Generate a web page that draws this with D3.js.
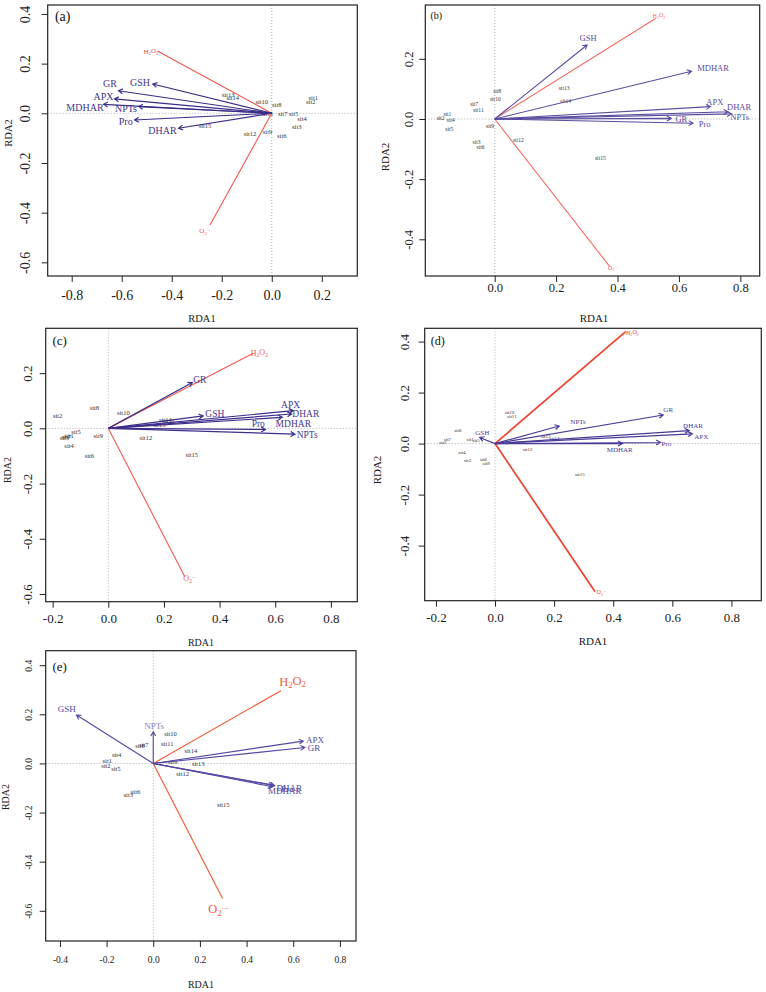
<!DOCTYPE html>
<html>
<head>
<meta charset="utf-8" />
<title>RDA biplots (a)-(e)</title>
<script src="https://cdn.jsdelivr.net/npm/d3@7"></script>
<style>
  body { margin: 0; background: #fff; }
  svg text { font-family: "Liberation Serif", "Times New Roman", serif; }
</style>
</head>
<body>
<script>
// ---- data ----
var varNames = ["GR", "GSH", "APX", "MDHAR", "NPTs", "Pro", "DHAR"];
var envNames = ["H2O2", "O2"];
var siteNames = d3.range(1, 16).map(function(i) { return "sit" + i; });

// panel (a)
var aTicksX = [-0.8, -0.6, -0.4, -0.2, 0.0, 0.2];
var aTicksY = [-0.6, -0.4, -0.2, 0.0, 0.2, 0.4];
var aVarX = [-0.613, -0.476, -0.629, -0.673, -0.533, -0.549, -0.373];
var aVarY = [0.091, 0.118, 0.058, 0.036, 0.027, -0.027, -0.060];
var aVarLabX = [-0.647, -0.527, -0.673, -0.747, -0.583, -0.584, -0.437];
var aVarLabY = [0.118, 0.123, 0.067, 0.024, 0.020, -0.034, -0.071];
var aEnvX = [-0.457, -0.247];
var aEnvY = [0.251, -0.450];
var aEnvLabX = [-0.483, -0.267];
var aEnvLabY = [0.248, -0.474];
var aSiteX = [0.166, 0.156, 0.100, 0.121, 0.087, 0.040, 0.044, 0.020, -0.017, -0.040, -0.018, -0.087, -0.174, -0.156, -0.267];
var aSiteY = [0.063, 0.045, -0.055, -0.022, 0.000, -0.089, 0.000, 0.036, -0.075, 0.045, 0.000, -0.081, 0.076, 0.064, -0.050];

// panel (b)
var bTicksX = [0.0, 0.2, 0.4, 0.6, 0.8];
var bTicksY = [-0.4, -0.2, 0.0, 0.2];
var bVarX = [0.575, 0.301, 0.703, 0.641, 0.771, 0.646, 0.760];
var bVarY = [0.002, 0.246, 0.041, 0.159, 0.017, -0.014, 0.024];
var bVarLabX = [0.608, 0.304, 0.717, 0.711, 0.798, 0.684, 0.796];
var bVarLabY = [0.001, 0.268, 0.055, 0.171, 0.008, -0.017, 0.039];
var bEnvX = [0.524, 0.375];
var bEnvY = [0.334, -0.491];
var bEnvLabX = [0.535, 0.385];
var bEnvLabY = [0.342, -0.496];
var bSiteX = [-0.154, -0.176, -0.059, -0.143, -0.148, -0.046, -0.067, 0.008, -0.015, 0.002, -0.053, 0.077, 0.226, 0.231, 0.344];
var bSiteY = [0.017, 0.003, -0.076, -0.003, -0.033, -0.095, 0.048, 0.094, -0.023, 0.065, 0.030, -0.070, 0.104, 0.058, -0.131];

// panel (c)
var cTicksX = [-0.2, 0.0, 0.2, 0.4, 0.6, 0.8];
var cTicksY = [-0.6, -0.4, -0.2, 0.0, 0.2];
var cVarX = [0.302, 0.341, 0.665, 0.626, 0.671, 0.565, 0.659];
var cVarY = [0.166, 0.045, 0.064, 0.040, -0.021, -0.004, 0.052];
var cVarLabX = [0.329, 0.383, 0.655, 0.665, 0.715, 0.539, 0.710];
var cVarLabY = [0.178, 0.052, 0.085, 0.018, -0.024, 0.018, 0.052];
var cEnvX = [0.521, 0.275];
var cEnvY = [0.272, -0.538];
var cEnvLabX = [0.543, 0.293];
var cEnvLabY = [0.272, -0.544];
var cSiteX = [-0.141, -0.182, -0.158, -0.141, -0.116, -0.068, -0.150, -0.050, -0.036, 0.054, 0.216, 0.135, 0.183, 0.205, 0.300];
var cSiteY = [-0.028, 0.045, -0.034, -0.064, -0.011, -0.100, -0.032, 0.076, -0.027, 0.057, 0.028, -0.033, 0.012, 0.030, -0.097];

// panel (d)
var dTicksX = [-0.2, 0.0, 0.2, 0.4, 0.6, 0.8];
var dTicksY = [-0.4, -0.2, 0.0, 0.2, 0.4];
var dVarX = [0.569, -0.052, 0.668, 0.431, 0.217, 0.560, 0.657];
var dVarY = [0.112, 0.024, 0.038, 0.000, 0.069, 0.004, 0.051];
var dVarLabX = [0.586, -0.043, 0.698, 0.422, 0.281, 0.580, 0.670];
var dVarLabY = [0.135, 0.044, 0.027, -0.025, 0.086, 0.001, 0.071];
var dEnvX = [0.442, 0.338];
var dEnvY = [0.439, -0.580];
var dEnvLabX = [0.465, 0.360];
var dEnvLabY = [0.433, -0.584];
var dSiteX = [-0.084, -0.177, -0.093, -0.112, -0.064, -0.039, -0.161, -0.126, -0.030, 0.049, 0.057, 0.110, 0.171, 0.201, 0.287];
var dSiteY = [0.017, 0.005, -0.067, -0.035, 0.012, -0.061, 0.017, 0.051, -0.078, 0.121, 0.106, -0.021, 0.027, 0.022, -0.120];

// panel (e)
var eTicksX = [-0.4, -0.2, 0.0, 0.2, 0.4, 0.6, 0.8];
var eTicksY = [-0.6, -0.4, -0.2, 0.0, 0.2, 0.4];
var eVarX = [0.650, -0.329, 0.643, 0.511, 0.000, 0.514, 0.521];
var eVarY = [0.065, 0.197, 0.091, -0.095, 0.129, -0.088, -0.091];
var eVarLabX = [0.689, -0.371, 0.693, 0.564, 0.004, 0.574, 0.583];
var eVarLabY = [0.065, 0.221, 0.098, -0.113, 0.152, -0.102, -0.099];
var eEnvX = [0.547, 0.297];
var eEnvY = [0.296, -0.550];
var eEnvLabX = [0.597, 0.279];
var eEnvLabY = [0.332, -0.594];
var eSiteX = [-0.197, -0.203, -0.107, -0.157, -0.160, -0.076, -0.040, -0.057, 0.083, 0.074, 0.060, 0.126, 0.193, 0.161, 0.300];
var eSiteY = [0.011, -0.009, -0.129, 0.034, -0.022, -0.115, 0.075, 0.071, 0.007, 0.122, 0.081, -0.041, -0.003, 0.050, -0.170];

// ---- layout & styles for each panel ----
var panels = [
  { tag: "(a)", box: [47.7, 5, 357.3, 276], xDom: [-0.896, 0.342], yDom: [-0.655, 0.436],
    ticksX: aTicksX, ticksY: aTicksY, vx: aVarX, vy: aVarY, vlx: aVarLabX, vly: aVarLabY,
    ex: aEnvX, ey: aEnvY, elx: aEnvLabX, ely: aEnvLabY, sx: aSiteX, sy: aSiteY,
    fTick: 14, fTitle: 10.5, fVar: 10, fEnv: 7, fSite: 6.5, fTag: 14,
    xLabOff: 19, yLabOff: 23, title1: [202, 318], title2: [8, 133], tagOff: [15, 11],
    arrowCol: "#3b2c86", labCol: "#45378f", redCol: "#f0544c", redW: 1.1, arrowW: 1.1 },
  { tag: "(b)", box: [425.3, 5, 759.7, 276], xDom: [-0.226, 0.863], yDom: [-0.522, 0.379],
    ticksX: bTicksX, ticksY: bTicksY, vx: bVarX, vy: bVarY, vlx: bVarLabX, vly: bVarLabY,
    ex: bEnvX, ey: bEnvY, elx: bEnvLabX, ely: bEnvLabY, sx: bSiteX, sy: bSiteY,
    fTick: 12.5, fTitle: 11, fVar: 8.5, fEnv: 6, fSite: 5.5, fTag: 10,
    xLabOff: 12, yLabOff: 17, title1: [594, 318], title2: [385, 157], tagOff: [11, 10],
    arrowCol: "#5a4b9e", labCol: "#5a4b9e", redCol: "#f36a62", redW: 1.1, arrowW: 1.1 },
  { tag: "(c)", box: [45.7, 328.3, 357.3, 601.7], xDom: [-0.225, 0.895], yDom: [-0.628, 0.3625],
    ticksX: cTicksX, ticksY: cTicksY, vx: cVarX, vy: cVarY, vlx: cVarLabX, vly: cVarLabY,
    ex: cEnvX, ey: cEnvY, elx: cEnvLabX, ely: cEnvLabY, sx: cSiteX, sy: cSiteY,
    fTick: 13, fTitle: 10, fVar: 9.5, fEnv: 8, fSite: 6.5, fTag: 13,
    xLabOff: 17, yLabOff: 18, title1: [201, 642], title2: [7, 470], tagOff: [14, 12],
    arrowCol: "#3d2f8b", labCol: "#45378f", redCol: "#f05a50", redW: 1.1, arrowW: 1.2 },
  { tag: "(d)", box: [424.7, 328.3, 761.3, 600.7], xDom: [-0.238, 0.901], yDom: [-0.616, 0.452],
    ticksX: dTicksX, ticksY: dTicksY, vx: dVarX, vy: dVarY, vlx: dVarLabX, vly: dVarLabY,
    ex: dEnvX, ey: dEnvY, elx: dEnvLabX, ely: dEnvLabY, sx: dSiteX, sy: dSiteY,
    fTick: 13, fTitle: 11, fVar: 7, fEnv: 6, fSite: 5, fTag: 12,
    xLabOff: 17, yLabOff: 20, title1: [593, 641], title2: [377, 470], tagOff: [13, 12],
    arrowCol: "#4a3c96", labCol: "#4a3c96", redCol: "#f0402f", redW: 1.7, arrowW: 1.2 },
  { tag: "(e)", box: [45.7, 650.7, 356, 941], xDom: [-0.461, 0.869], yDom: [-0.723, 0.459],
    ticksX: eTicksX, ticksY: eTicksY, vx: eVarX, vy: eVarY, vlx: eVarLabX, vly: eVarLabY,
    ex: eEnvX, ey: eEnvY, elx: eEnvLabX, ely: eEnvLabY, sx: eSiteX, sy: eSiteY,
    fTick: 9.5, fTitle: 10, fVar: 9, fEnv: 12.5, fSite: 6.5, fTag: 13,
    xLabOff: 19, yLabOff: 17, title1: [201, 984], title2: [5, 797], tagOff: [14, 16],
    arrowCol: "#5548a3", labCol: "#5548a3", redCol: "#f0603c", redW: 1.2, arrowW: 1.1 }
];

var svg = d3.select("body").append("svg")
    .attr("width", 766)
    .attr("height", 992);

function fmt(d) { return Math.abs(d) < 1e-9 ? "0.0" : d.toFixed(1); }

// H2O2 / O2.- with sub and superscripts
function envLabel(sel, name) {
  if (name == "H2O2") {
    sel.append("tspan").text("H");
    sel.append("tspan").attr("dy", "0.3em").attr("font-size", "70%").text("2");
    sel.append("tspan").attr("dy", "-0.3em").text("O");
    sel.append("tspan").attr("dy", "0.3em").attr("font-size", "70%").text("2");
  } else {
    sel.append("tspan").text("O");
    sel.append("tspan").attr("dy", "0.3em").attr("font-size", "70%").text("2");
    sel.append("tspan").attr("dy", "-0.65em").attr("font-size", "60%").text("·−");
  }
}

function drawPanel(p) {
  var x = d3.scaleLinear().domain(p.xDom).range([p.box[0], p.box[2]]);
  var y = d3.scaleLinear().domain(p.yDom).range([p.box[3], p.box[1]]);
  var g = svg.append("g");

  // dotted zero lines
  g.append("line")
    .attr("x1", x(0)).attr("x2", x(0)).attr("y1", p.box[1]).attr("y2", p.box[3])
    .attr("stroke", "#999").attr("stroke-width", 0.8).attr("stroke-dasharray", "1,2");
  g.append("line")
    .attr("x1", p.box[0]).attr("x2", p.box[2]).attr("y1", y(0)).attr("y2", y(0))
    .attr("stroke", "#999").attr("stroke-width", 0.8).attr("stroke-dasharray", "1,2");

  // site labels
  g.selectAll("text.site")
    .data(siteNames)
    .enter()
    .append("text")
      .attr("class", "site")
      .attr("x", function(d, i) { return x(p.sx[i]); })
      .attr("y", function(d, i) { return y(p.sy[i]); })
      .attr("dy", "0.35em")
      .attr("text-anchor", "middle")
      .attr("font-size", p.fSite)
      .attr("fill", "#333")
      .text(function(d) { return d; });

  // environmental vectors (red, no heads)
  g.selectAll("line.env")
    .data(envNames)
    .enter()
    .append("line")
      .attr("x1", x(0)).attr("y1", y(0))
      .attr("x2", function(d, i) { return x(p.ex[i]); })
      .attr("y2", function(d, i) { return y(p.ey[i]); })
      .attr("stroke", p.redCol)
      .attr("stroke-width", p.redW);
  envNames.forEach(function(name, i) {
    var t = g.append("text")
      .attr("x", x(p.elx[i]))
      .attr("y", y(p.ely[i]))
      .attr("dy", "0.3em")
      .attr("text-anchor", "middle")
      .attr("font-size", p.fEnv)
      .attr("fill", p.redCol);
    envLabel(t, name);
  });

  // response arrows
  var head = 5;
  varNames.forEach(function(name, i) {
    var x0 = x(0), y0 = y(0), x1 = x(p.vx[i]), y1 = y(p.vy[i]);
    var a = Math.atan2(y1 - y0, x1 - x0);
    var path = d3.path();
    path.moveTo(x0, y0);
    path.lineTo(x1, y1);
    path.moveTo(x1 - head * Math.cos(a - Math.PI / 6), y1 - head * Math.sin(a - Math.PI / 6));
    path.lineTo(x1, y1);
    path.lineTo(x1 - head * Math.cos(a + Math.PI / 6), y1 - head * Math.sin(a + Math.PI / 6));
    g.append("path")
      .attr("d", path.toString())
      .attr("fill", "none")
      .attr("stroke", p.arrowCol)
      .attr("stroke-width", p.arrowW);
  });
  g.selectAll("text.var")
    .data(varNames)
    .enter()
    .append("text")
      .attr("class", "var")
      .attr("x", function(d, i) { return x(p.vlx[i]); })
      .attr("y", function(d, i) { return y(p.vly[i]); })
      .attr("dy", "0.35em")
      .attr("text-anchor", "middle")
      .attr("font-size", p.fVar)
      .attr("fill", function(d) { return (p.tag == "(e)" && d == "NPTs") ? "#8a80c6" : p.labCol; })
      .text(function(d) { return d; });

  // frame
  g.append("rect")
    .attr("x", p.box[0]).attr("y", p.box[1])
    .attr("width", p.box[2] - p.box[0]).attr("height", p.box[3] - p.box[1])
    .attr("fill", "none").attr("stroke", "#222").attr("stroke-width", 1.2);

  // axes
  var xa = g.append("g")
    .attr("transform", "translate(0," + p.box[3] + ")")
    .call(d3.axisBottom(x).tickValues(p.ticksX).tickSize(6).tickFormat(fmt));
  xa.select(".domain").remove();
  xa.selectAll("line").attr("stroke", "#222");
  xa.selectAll("text")
    .attr("y", p.xLabOff).attr("dy", "0.35em")
    .attr("font-size", p.fTick).attr("fill", "#222")
    .style("font-family", "Liberation Serif, serif");

  var ya = g.append("g")
    .attr("transform", "translate(" + p.box[0] + ",0)")
    .call(d3.axisLeft(y).tickValues(p.ticksY).tickSize(6).tickFormat(fmt));
  ya.select(".domain").remove();
  ya.selectAll("line").attr("stroke", "#222");
  ya.selectAll("text")
    .attr("transform", "rotate(-90)")
    .attr("x", 0).attr("y", -p.yLabOff).attr("dy", "0.35em")
    .attr("text-anchor", "middle")
    .attr("font-size", p.fTick).attr("fill", "#222")
    .style("font-family", "Liberation Serif, serif");

  // axis titles
  g.append("text")
    .attr("x", p.title1[0]).attr("y", p.title1[1]).attr("dy", "0.35em")
    .attr("text-anchor", "middle").attr("font-size", p.fTitle).attr("fill", "#222")
    .text("RDA1");
  g.append("text")
    .attr("transform", "translate(" + p.title2[0] + "," + p.title2[1] + ")rotate(-90)")
    .attr("dy", "0.35em")
    .attr("text-anchor", "middle").attr("font-size", p.fTitle).attr("fill", "#222")
    .text("RDA2");

  // panel tag
  g.append("text")
    .attr("x", p.box[0] + p.tagOff[0]).attr("y", p.box[1] + p.tagOff[1]).attr("dy", "0.35em")
    .attr("text-anchor", "middle").attr("font-size", p.fTag).attr("fill", "#111")
    .text(p.tag);
}

panels.forEach(drawPanel);
</script>
</body>
</html>
